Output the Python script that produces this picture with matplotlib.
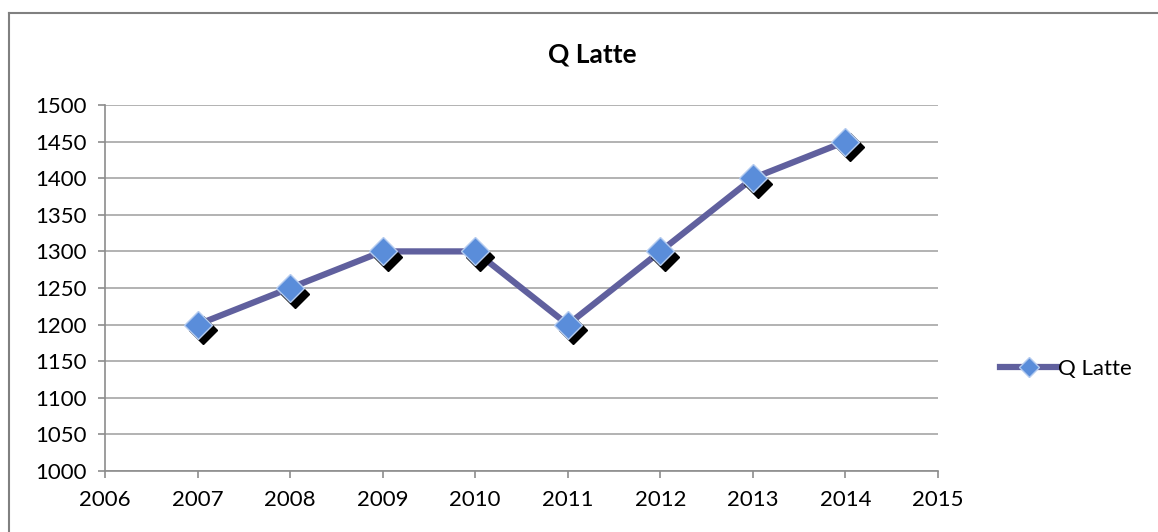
import matplotlib.pyplot as plt
import matplotlib.transforms as mtransforms
from matplotlib.lines import Line2D

years = [2007, 2008, 2009, 2010, 2011, 2012, 2013, 2014]
q_latte = [1200, 1250, 1300, 1300, 1200, 1300, 1400, 1450]
title = "Q Latte"

plt.rcParams['font.family'] = ['Lato', 'DejaVu Sans']

fig = plt.figure(figsize=(11.58, 5.32), dpi=100)
ax = fig.add_axes([105 / 1158, 61 / 532, 833 / 1158, 366 / 532])

# outer chart border (top and left visible)
fig.add_artist(Line2D([9 / 1158, 9 / 1158], [0, 1 - 13 / 532], transform=fig.transFigure, color="#808080", lw=1.5))
fig.add_artist(Line2D([9 / 1158, 1], [1 - 13 / 532, 1 - 13 / 532], transform=fig.transFigure, color="#808080", lw=1.5))

line_col = "#60609E"
ax.plot(years, q_latte, color=line_col, lw=4.5, zorder=3, solid_capstyle="round")

# drop shadow under markers
shadow = ax.transData + mtransforms.ScaledTranslation(5 / 100, -5.5 / 100, fig.dpi_scale_trans)
ax.plot(years, q_latte, ls="none", marker="D", ms=14, color="black", transform=shadow, zorder=4)
ax.plot(years, q_latte, ls="none", marker="D", ms=14, markerfacecolor="#5A8DDA",
        markeredgecolor="#B4CBEF", markeredgewidth=1, zorder=5)

ax.set_xlim(2006, 2015)
ax.set_ylim(1000, 1500)
ax.set_xticks(range(2006, 2016))
ax.set_yticks(range(1000, 1501, 50))
ax.grid(axis="y", color="#A6A6A6", lw=1.2)
ax.set_axisbelow(True)
for s in ["top", "right"]:
    ax.spines[s].set_visible(False)
for s in ["left", "bottom"]:
    ax.spines[s].set_color("#8C8C8C")
    ax.spines[s].set_linewidth(1.2)
ax.tick_params(colors="#8C8C8C", labelcolor="black", labelsize=16, length=5, width=1.2)
ax.tick_params(axis="x", pad=9)
ax.tick_params(axis="y", pad=8)

fig.text(592 / 1158, 1 - 55 / 532, title, ha="center", va="center", fontsize=19, fontweight="bold")

handle = Line2D([], [], color=line_col, lw=4.5, marker="D", ms=10,
                markerfacecolor="#5A8DDA", markeredgecolor="#B4CBEF")
fig.legend([handle], ["Q Latte"], loc="center left", bbox_to_anchor=(980 / 1158, 1 - 369 / 532),
           frameon=False, fontsize=16, handlelength=2.6, handletextpad=0.0)

fig.savefig("out.png", dpi=100)
